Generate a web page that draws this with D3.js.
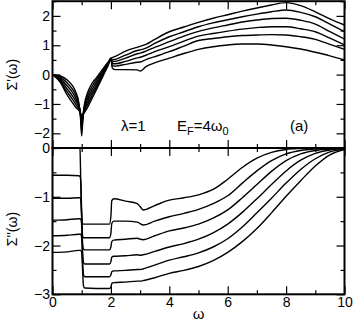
<!DOCTYPE html>
<html>
<head>
<meta charset="utf-8">
<script src="https://cdn.jsdelivr.net/npm/d3@7"></script>
<style>
  body { margin: 0; background: #fff; }
  svg { display: block; font-family: "Liberation Sans", Arial, sans-serif; }
  .axis path { display: none; }
  .axis line { stroke: #000; stroke-width: 1.2; }
  .axis text { font-size: 14px; fill: #000; }
</style>
</head>
<body>
<div id="chart"></div>
<script>
// frequency grids (units of omega_0)
var topW = [0, 0.25, 0.5, 0.7, 0.8, 0.9, 0.95, 1.0, 1.05, 1.1, 1.2, 1.35, 1.5, 1.75, 1.9, 2.0,
            2.05, 2.15, 2.5, 2.9, 3.0, 3.2, 3.5, 4.0, 4.5, 5.0, 5.5, 6.0, 6.5, 7.0, 7.5, 8.0, 8.5, 9.0, 9.5, 10];

// real part Sigma'(w), six curves
var re1 = [0, -0.04, -0.18, -0.40, -0.60, -0.95, -1.35, -2.09, -1.35, -0.98, -0.62, -0.30, -0.11, 0.23, 0.42, 0.56,
           0.58, 0.62, 0.80, 0.93, 0.96, 1.03, 1.20, 1.46, 1.62, 1.78, 1.92, 2.04, 2.16, 2.27, 2.37, 2.45, 2.35, 2.14, 1.90, 1.69];
var re2 = [0, -0.08, -0.28, -0.52, -0.70, -1.00, -1.30, -1.90, -1.36, -1.05, -0.73, -0.41, -0.19, 0.18, 0.39, 0.55,
           0.50, 0.52, 0.66, 0.82, 0.84, 0.90, 1.06, 1.29, 1.46, 1.63, 1.76, 1.87, 1.97, 2.06, 2.14, 2.20, 2.12, 1.97, 1.72, 1.46];
var re3 = [0, -0.12, -0.38, -0.63, -0.81, -1.05, -1.26, -1.75, -1.37, -1.12, -0.84, -0.52, -0.27, 0.13, 0.36, 0.55,
           0.44, 0.45, 0.56, 0.71, 0.73, 0.80, 0.93, 1.12, 1.31, 1.47, 1.59, 1.69, 1.79, 1.86, 1.91, 1.92, 1.85, 1.72, 1.46, 1.21];
var re4 = [0, -0.16, -0.49, -0.75, -0.91, -1.11, -1.27, -1.62, -1.38, -1.18, -0.94, -0.62, -0.36, 0.08, 0.34, 0.54,
           0.38, 0.37, 0.45, 0.57, 0.59, 0.66, 0.78, 0.95, 1.14, 1.31, 1.40, 1.48, 1.55, 1.60, 1.63, 1.63, 1.56, 1.46, 1.24, 1.01];
var re5 = [0, -0.20, -0.59, -0.86, -1.02, -1.17, -1.28, -1.50, -1.37, -1.23, -1.03, -0.72, -0.44, 0.04, 0.32, 0.53,
           0.30, 0.29, 0.35, 0.42, 0.43, 0.51, 0.61, 0.78, 0.97, 1.16, 1.23, 1.29, 1.33, 1.35, 1.36, 1.35, 1.29, 1.20, 1.03, 0.86];
var re6 = [0, -0.24, -0.69, -0.98, -1.12, -1.22, -1.30, -1.40, -1.36, -1.28, -1.12, -0.82, -0.52, -0.01, 0.30, 0.52,
           0.22, 0.17, 0.17, 0.16, 0.12, 0.27, 0.40, 0.56, 0.72, 0.86, 0.95, 1.01, 1.04, 1.04, 1.01, 0.95, 0.87, 0.76, 0.64, 0.50];

var botW = [0, 0.5, 0.9, 0.94, 0.97, 1.0, 1.03, 1.06, 1.1, 1.5, 1.95, 2.0, 2.03, 2.1, 2.5, 2.9, 3.0, 3.1, 3.5,
            4.0, 4.5, 5.0, 5.5, 6.0, 6.5, 7.0, 7.5, 8.0, 8.5, 9.0, 9.5, 10];

// imaginary part Sigma''(w), six curves
var im1 = [0, 0, 0, -0.02, -0.75, -1.45, -1.55, -1.56, -1.56, -1.56, -1.56, -1.40, -1.08, -1.04, -1.09, -1.14, -1.20, -1.27, -1.18,
           -1.07, -1.02, -0.96, -0.85, -0.64, -0.40, -0.21, -0.09, -0.03, -0.01, 0, 0, 0];
var im2 = [-0.56, -0.56, -0.57, -0.58, -0.70, -1.35, -1.80, -1.84, -1.84, -1.84, -1.84, -1.75, -1.55, -1.50, -1.50, -1.52, -1.55, -1.58, -1.50,
           -1.41, -1.34, -1.26, -1.14, -0.98, -0.72, -0.47, -0.26, -0.12, -0.05, -0.02, -0.01, 0];
var im3 = [-1.03, -1.03, -1.02, -1.02, -1.06, -1.40, -1.95, -2.07, -2.09, -2.09, -2.09, -2.03, -1.92, -1.89, -1.87, -1.85, -1.87, -1.88, -1.80,
           -1.70, -1.64, -1.56, -1.44, -1.27, -1.02, -0.75, -0.48, -0.26, -0.12, -0.05, -0.02, 0];
var im4 = [-1.48, -1.47, -1.45, -1.45, -1.46, -1.60, -2.10, -2.34, -2.38, -2.38, -2.38, -2.33, -2.24, -2.22, -2.21, -2.19, -2.20, -2.19, -2.12,
           -2.03, -1.96, -1.87, -1.74, -1.56, -1.32, -1.04, -0.75, -0.47, -0.25, -0.11, -0.04, -0.01];
var im5 = [-1.80, -1.79, -1.77, -1.77, -1.77, -1.85, -2.30, -2.60, -2.64, -2.64, -2.64, -2.60, -2.54, -2.52, -2.51, -2.49, -2.49, -2.48, -2.40,
           -2.30, -2.23, -2.15, -2.03, -1.86, -1.62, -1.33, -1.03, -0.72, -0.44, -0.22, -0.08, -0.02];
var im6 = [-2.14, -2.13, -2.10, -2.10, -2.10, -2.14, -2.50, -2.82, -2.87, -2.88, -2.88, -2.85, -2.78, -2.76, -2.75, -2.73, -2.73, -2.72, -2.66,
           -2.57, -2.51, -2.43, -2.31, -2.14, -1.92, -1.65, -1.33, -0.99, -0.67, -0.37, -0.14, -0.03];

var xMajor = [0, 2, 4, 6, 8, 10];
var xMinor = [1, 3, 5, 7, 9];
var topMajor = [-2, -1, 0, 1, 2];
var topMinor = [-2.5, -1.5, -0.5, 0.5, 1.5, 2.5];
var botMajor = [-3, -2, -1, 0];
var botMinor = [-2.5, -1.5, -0.5];

var W = 354, H = 323;
var pLeft = 52.5, pRight = 344.5, pTop = 1.2, pMid = 148, pBottom = 294.3;

var svg = d3.select("#chart").append("svg")
    .attr("width", W)
    .attr("height", H);

var x = d3.scaleLinear().domain([0, 10]).range([pLeft, pRight]);
var yTop = d3.scaleLinear().domain([-2.5, 2.5]).range([pMid, pTop]);
var yBot = d3.scaleLinear().domain([-3, 0]).range([pBottom, pMid]);

function ticks(axis, values, size, pos, labels) {
    return svg.append("g")
        .attr("class", "axis")
        .attr("transform", pos)
        .call(axis.tickValues(values).tickSizeInner(size).tickSizeOuter(0).tickPadding(2.5)
            .tickFormat(labels ? d3.format("d") : ""));
}

// top panel axes
ticks(d3.axisLeft(yTop), topMajor, -8, "translate(" + pLeft + ",0)", true);
ticks(d3.axisLeft(yTop), topMinor, -4, "translate(" + pLeft + ",0)", false);
ticks(d3.axisRight(yTop), topMajor, -8, "translate(" + pRight + ",0)", false);
ticks(d3.axisRight(yTop), topMinor, -4, "translate(" + pRight + ",0)", false);
ticks(d3.axisTop(x), xMajor, -8, "translate(0," + pTop + ")", false);
ticks(d3.axisTop(x), xMinor, -4, "translate(0," + pTop + ")", false);
ticks(d3.axisBottom(x), xMajor, -8, "translate(0," + pMid + ")", false);
ticks(d3.axisBottom(x), xMinor, -4, "translate(0," + pMid + ")", false);

// bottom panel axes
ticks(d3.axisLeft(yBot), botMajor, -8, "translate(" + pLeft + ",0)", true);
ticks(d3.axisLeft(yBot), botMinor, -4, "translate(" + pLeft + ",0)", false);
ticks(d3.axisRight(yBot), botMajor, -8, "translate(" + pRight + ",0)", false);
ticks(d3.axisRight(yBot), botMinor, -4, "translate(" + pRight + ",0)", false);
ticks(d3.axisTop(x), xMajor, -8, "translate(0," + pMid + ")", false);
ticks(d3.axisTop(x), xMinor, -4, "translate(0," + pMid + ")", false);
ticks(d3.axisBottom(x), xMajor, -8, "translate(0," + pBottom + ")", true);
ticks(d3.axisBottom(x), xMinor, -4, "translate(0," + pBottom + ")", false);

// curves
var lineTop = d3.line()
    .x(function(d) { return x(d[0]); })
    .y(function(d) { return yTop(d[1]); })
    .curve(d3.curveMonotoneX);
var lineBot = d3.line()
    .x(function(d) { return x(d[0]); })
    .y(function(d) { return yBot(d[1]); })
    .curve(d3.curveMonotoneX);

[re1, re2, re3, re4, re5, re6].forEach(function(s) {
    svg.append("path")
        .datum(d3.zip(topW, s))
        .attr("d", lineTop)
        .attr("fill", "none")
        .attr("stroke", "#000")
        .attr("stroke-width", 1.4);
});
[im1, im2, im3, im4, im5, im6].forEach(function(s) {
    svg.append("path")
        .datum(d3.zip(botW, s))
        .attr("d", lineBot)
        .attr("fill", "none")
        .attr("stroke", "#000")
        .attr("stroke-width", 1.4);
});

// frames
[[pTop, pMid], [pMid, pBottom]].forEach(function(p) {
    svg.append("rect")
        .attr("x", pLeft)
        .attr("y", p[0])
        .attr("width", pRight - pLeft)
        .attr("height", p[1] - p[0])
        .attr("fill", "none")
        .attr("stroke", "#000")
        .attr("stroke-width", 2);
});

// axis titles
svg.append("text")
    .attr("transform", "translate(17," + yTop(0) + ") rotate(-90)")
    .attr("text-anchor", "middle")
    .style("font-size", "14px")
    .text("\u03A3'(\u03C9)");
svg.append("text")
    .attr("transform", "translate(17,229) rotate(-90)")
    .attr("text-anchor", "middle")
    .style("font-size", "14px")
    .text("\u03A3''(\u03C9)");
svg.append("text")
    .attr("x", (pLeft + pRight) / 2)
    .attr("y", 319)
    .attr("text-anchor", "middle")
    .style("font-size", "15px")
    .text("\u03C9");

// annotations
svg.append("text")
    .attr("x", 121)
    .attr("y", 131)
    .style("font-size", "15px")
    .text("\u03BB=1");

var ef = svg.append("text")
    .attr("x", 177)
    .attr("y", 131)
    .style("font-size", "15px");
ef.append("tspan").text("E");
ef.append("tspan").attr("dy", 4).style("font-size", "11px").text("F");
ef.append("tspan").attr("dy", -4).text("=4\u03C9");
ef.append("tspan").attr("dy", 4).style("font-size", "11px").text("0");

svg.append("text")
    .attr("x", 290)
    .attr("y", 131)
    .style("font-size", "15px")
    .text("(a)");
</script>
</body>
</html>
